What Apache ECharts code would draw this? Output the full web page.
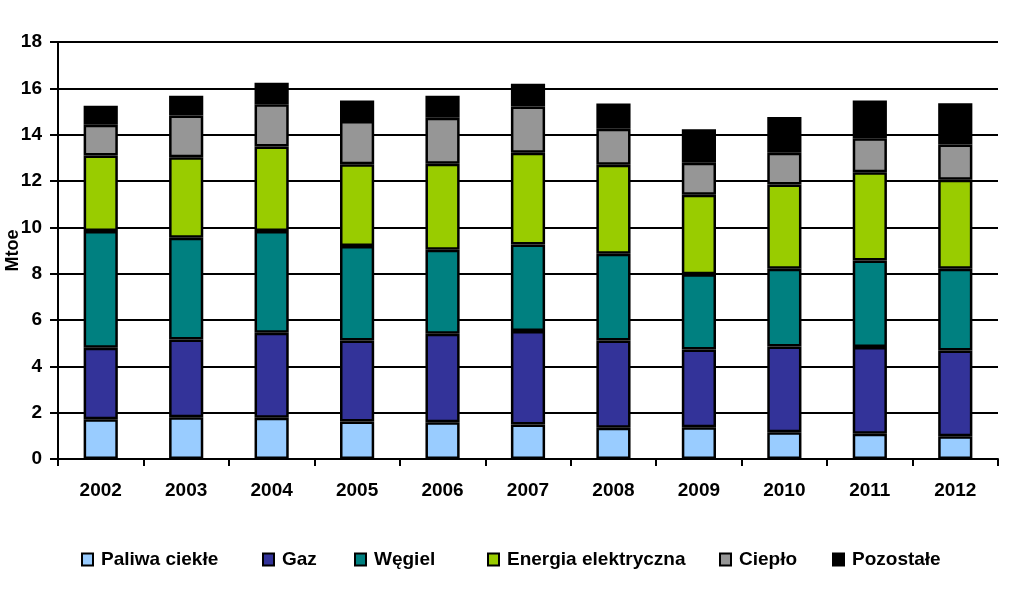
<!DOCTYPE html>
<html>
<head>
<meta charset="utf-8">
<script src="https://cdn.jsdelivr.net/npm/echarts@6/dist/echarts.min.js"></script>
<style>html,body{margin:0;padding:0;background:#fff}#c{width:1024px;height:591px}</style>
</head>
<body>
<div id="c"></div>
<script>
var years = ['2002','2003','2004','2005','2006','2007','2008','2009','2010','2011','2012'];
var paliwa = [1.72,1.80,1.78,1.62,1.59,1.49,1.35,1.37,1.16,1.09,0.98];
var gaz = [3.08,3.36,3.67,3.50,3.82,4.03,3.77,3.36,3.70,3.74,3.70];
var wegiel = [5.04,4.39,4.39,4.07,3.62,3.74,3.74,3.24,3.35,3.74,3.53];
var energia = [3.26,3.48,3.65,3.53,3.72,3.96,3.84,3.44,3.64,3.81,3.84];
var cieplo = [1.33,1.80,1.82,1.87,1.98,2.00,1.56,1.38,1.37,1.47,1.53];
var pozostale = [0.82,0.85,0.93,0.89,0.95,0.98,1.08,1.44,1.54,1.63,1.78];

var names = ['Paliwa ciekłe','Gaz','Węgiel','Energia elektryczna','Ciepło','Pozostałe'];
var colors = ['#99CCFF','#333399','#008080','#99CC00','#969696','#000000'];
var datas = [paliwa,gaz,wegiel,energia,cieplo,pozostale];
var legendLeft = [81,262,354,487,719,832];
var font = 'Liberation Sans, Arial, sans-serif';

var series = names.map(function(n,i){
  return {
    name:n, type:'bar', stack:'total', data:datas[i], barWidth:'40%',
    itemStyle:{color:colors[i], borderColor:'#000', borderWidth:2.5},
    emphasis:{disabled:true}
  };
});

var legends = names.map(function(n,i){
  return {
    top:550, left:legendLeft[i], padding:0, itemWidth:11, itemHeight:12, icon:'rect',
    selectedMode:false,
    textStyle:{fontFamily:font, fontWeight:'bold', fontSize:19, color:'#000', padding:[0,0,0,3]},
    data:[{name:n, itemStyle:{color:colors[i], borderColor:'#000', borderWidth:2}}]
  };
});

var chart = echarts.init(document.getElementById('c'));
chart.setOption({
  animation:false,
  backgroundColor:'#fff',
  grid:{left:58,right:26,top:42,bottom:132,containLabel:false,outerBoundsMode:'none'},
  legend:legends,
  xAxis:{
    type:'category', data:years,
    axisLine:{lineStyle:{color:'#000',width:2}},
    axisTick:{show:true, length:7, lineStyle:{color:'#000',width:2}},
    axisLabel:{fontFamily:font, fontWeight:'bold', fontSize:19, color:'#000', margin:22}
  },
  yAxis:{
    type:'value', min:0, max:18, interval:2,
    name:'Mtoe', nameLocation:'middle', nameGap:36, nameRotate:90, nameMoveOverlap:false,
    nameTextStyle:{fontFamily:font, fontWeight:'bold', fontSize:18, color:'#000'},
    axisLine:{show:true, lineStyle:{color:'#000',width:2}},
    axisTick:{show:true, length:8, lineStyle:{color:'#000',width:2}},
    axisLabel:{fontFamily:font, fontWeight:'bold', fontSize:19, color:'#000', margin:16},
    splitLine:{show:true, lineStyle:{color:'#000',width:2}}
  },
  series:series
});
</script>
</body>
</html>
